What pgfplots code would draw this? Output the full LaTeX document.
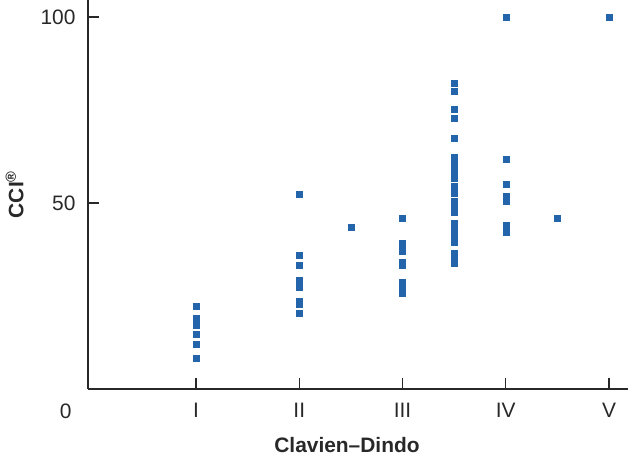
\documentclass[border=0pt]{standalone}
\usepackage{fontspec}
\setmainfont{Liberation Sans}
\usepackage{pgfplots}
\pgfplotsset{compat=1.18}
\definecolor{dotblue}{RGB}{35,100,170}
\definecolor{axisgray}{RGB}{40,40,40}

\begin{document}
\begin{tikzpicture}
\begin{axis}[
    scale only axis,
    width=540bp, height=389bp,
    xmin=-0.046, xmax=5.184,
    ymin=0, ymax=104.6,
    axis x line=bottom, axis y line=left,
    axis line style={-, line width=1.1bp, axisgray},
    xtick={1,2,3,4,5},
    xticklabels={I,II,III,IV,V},
    ytick={50,100},
    tick align=inside,
    major tick length=11bp,
    tick style={line width=1.3bp, axisgray},
    /pgf/number format/assume math mode=true,
    tick label style={font=\fontsize{21}{25}\selectfont, text=axisgray},
    xticklabel style={anchor=base, yshift=-28.7bp},
    yticklabel style={xshift=-9bp},
    xlabel={\bfseries Clavien--Dindo},
    xlabel style={at={(rel axis cs:0.4796,-0.164)}, anchor=base,
        font=\fontsize{21}{25}\selectfont, text=axisgray},
    ylabel={\bfseries CCI\textsuperscript{®}},
    ylabel style={at={(rel axis cs:-0.1198,0.5)}, anchor=base, rotate=0,
        font=\fontsize{21}{25}\selectfont, text=axisgray},
    clip=false,
]
% Grades I..V at 1..5, intermediate grades at half positions
\addplot[only marks, mark=square*, mark size=3bp, color=dotblue] coordinates {
    (1,22.3) (1,19.0) (1,17.2) (1,14.8) (1,12.0) (1,8.4)
    (2,52.5) (2,36.0) (2,33.3) (2,29.3) (2,27.3) (2,23.7) (2,22.7) (2,20.4)
    (2.5,43.4)
    (3,45.9) (3,39.3) (3,38.2) (3,37.1) (3,34.1) (3,33.3)
    (3,28.7) (3,27.2) (3,25.8)
    (3.5,82.2) (3.5,80.2) (3.5,75.3) (3.5,72.8) (3.5,67.5)
    (3.5,62.4) (3.5,61.0) (3.5,59.6) (3.5,58.1) (3.5,56.7)
    (3.5,54.5) (3.5,52.6) (3.5,50.5) (3.5,49.0) (3.5,47.6)
    (3.5,44.6) (3.5,43.0) (3.5,41.2) (3.5,39.5)
    (3.5,36.6) (3.5,35.1) (3.5,33.7)
    (4,100) (4,61.9) (4,55.0) (4,51.8) (4,50.5) (4,44.0) (4,42.2)
    (4.5,46.0)
    (5,100)
};
% the zero label sits in the corner, on the row of the x tick labels
\node[anchor=base east, inner sep=0pt, font=\fontsize{21}{25}\selectfont, text=axisgray]
    at (rel axis cs:-0.0302,-0.0746) {0};
\coordinate (bl) at (rel axis cs:-0.163,-0.1723);
\coordinate (tr) at (rel axis cs:1,1);
\end{axis}
\pgfresetboundingbox
\path[use as bounding box] (bl) rectangle (tr);
\end{tikzpicture}
\end{document}
